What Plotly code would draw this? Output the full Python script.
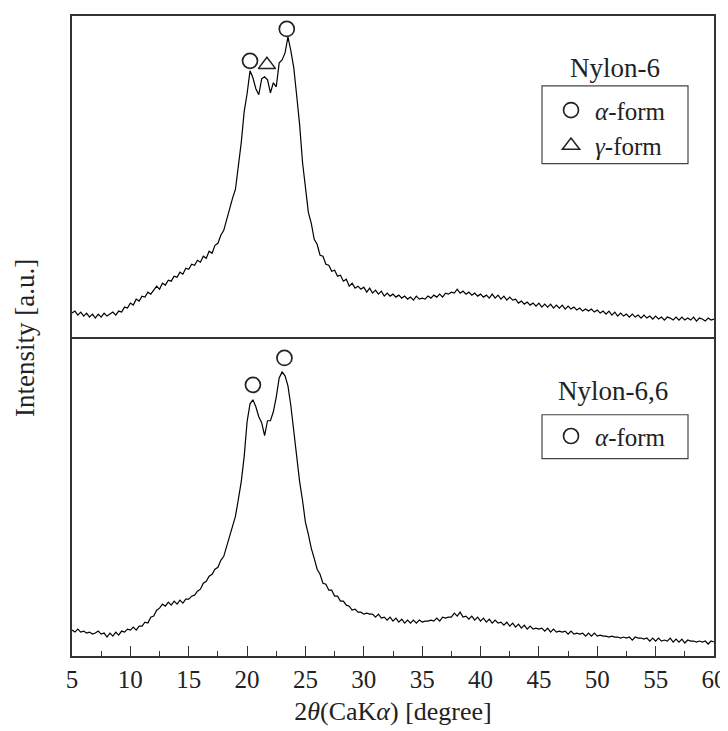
import numpy as np
import plotly.graph_objects as go
from plotly.subplots import make_subplots

# 2-theta scan grid (degrees), 0.25 deg step
two_theta = np.arange(5.0, 60.001, 0.25)

# Nylon-6 intensity (a.u.)
nylon6 = [
    24, 26, 22, 25, 21, 24, 20, 23, 19, 23, 20, 24, 21, 23, 25, 22, 26, 25, 30, 29,
    34, 32, 38, 36, 41, 40, 45, 43, 47, 51, 48, 54, 52, 57, 56, 61, 60, 65, 63, 69,
    68, 73, 72, 77, 75, 81, 79, 86, 84, 92, 94, 102, 107, 118, 127, 139, 148, 172, 195, 226,
    244, 267, 260, 249, 243, 259, 261, 258, 245, 255, 251, 275, 278, 285, 301, 287, 270, 242, 213, 175,
    147, 125, 114, 98, 93, 82, 81, 73, 72, 66, 67, 61, 62, 56, 58, 51, 54, 49, 51, 48,
    50, 45, 49, 44, 47, 43, 46, 41, 44, 41, 43, 40, 42, 39, 41, 38, 40, 37, 41, 38,
    39, 38, 41, 39, 42, 40, 43, 40, 44, 43, 45, 44, 48, 44, 46, 43, 45, 42, 44, 41,
    43, 40, 42, 39, 43, 39, 42, 38, 41, 37, 40, 37, 38, 34, 36, 33, 35, 32, 34, 31,
    34, 30, 33, 30, 33, 29, 32, 29, 32, 28, 31, 28, 30, 27, 29, 26, 28, 26, 28, 25,
    27, 24, 26, 23, 26, 22, 25, 21, 24, 21, 23, 20, 23, 20, 22, 19, 22, 19, 21, 18,
    21, 18, 20, 17, 20, 19, 17, 20, 17, 20, 17, 19, 17, 20, 16, 19, 18, 16, 19, 17,
    18,
]

# Nylon-6,6 intensity (a.u.)
nylon66 = [
    26, 24, 27, 24, 25, 23, 24, 22, 23, 25, 22, 23, 19, 23, 20, 24, 21, 25, 24, 27,
    26, 29, 26, 30, 30, 34, 33, 39, 40, 46, 48, 52, 50, 54, 51, 55, 52, 56, 53, 57,
    57, 60, 61, 65, 67, 73, 75, 80, 82, 87, 89, 96, 100, 110, 118, 129, 140, 157, 175, 200,
    235, 253, 257, 250, 240, 234, 221, 236, 236, 245, 260, 279, 285, 281, 271, 251, 225, 202, 175, 156,
    134, 122, 108, 98, 87, 82, 73, 72, 66, 66, 60, 60, 55, 55, 51, 50, 46, 47, 44, 44,
    42, 43, 42, 42, 39, 42, 38, 39, 36, 39, 35, 38, 34, 37, 33, 36, 33, 36, 33, 36,
    34, 35, 35, 36, 35, 38, 35, 39, 38, 39, 39, 43, 40, 44, 39, 40, 37, 40, 36, 39,
    35, 38, 34, 37, 33, 36, 33, 34, 31, 34, 30, 33, 29, 32, 28, 31, 27, 30, 27, 28,
    27, 28, 25, 28, 24, 27, 24, 25, 24, 25, 22, 25, 22, 23, 22, 23, 20, 23, 20, 23,
    20, 21, 20, 20, 19, 20, 19, 19, 18, 19, 18, 19, 16, 19, 18, 18, 17, 18, 15, 18,
    15, 18, 15, 16, 15, 18, 14, 17, 14, 17, 13, 16, 15, 15, 14, 15, 14, 15, 12, 15,
    14,
]

# Peak markers
n6_alpha_x = [20.25, 23.4]
n6_alpha_y = [277, 309]
n6_gamma_x = [21.7]
n6_gamma_y = [273]
n66_alpha_x = [20.5, 23.2]
n66_alpha_y = [272, 299]

tick_vals = list(range(5, 61, 5))

FONT = "Liberation Serif"
AX = "#333333"

fig = make_subplots(rows=2, cols=1, shared_xaxes=True, vertical_spacing=0)

fig.add_trace(go.Scatter(x=two_theta, y=nylon6, mode="lines",
                         line=dict(color="black", width=1.2), showlegend=False,
                         hoverinfo="skip"), row=1, col=1)
fig.add_trace(go.Scatter(x=two_theta, y=nylon66, mode="lines",
                         line=dict(color="black", width=1.2), showlegend=False,
                         hoverinfo="skip"), row=2, col=1)

fig.add_trace(go.Scatter(x=n6_alpha_x, y=n6_alpha_y, mode="markers", name="<i>α</i>-form",
                         marker=dict(symbol="circle-open", size=15, color="#222",
                                     line=dict(width=1.7, color="#222")),
                         legend="legend"), row=1, col=1)
fig.add_trace(go.Scatter(x=n6_gamma_x, y=n6_gamma_y, mode="markers", name="<i>γ</i>-form",
                         marker=dict(symbol="triangle-up-open", size=15, color="#222",
                                     line=dict(width=1.5, color="#222")),
                         legend="legend"), row=1, col=1)
fig.add_trace(go.Scatter(x=n66_alpha_x, y=n66_alpha_y, mode="markers", name="<i>α</i>-form",
                         marker=dict(symbol="circle-open", size=15, color="#222",
                                     line=dict(width=1.7, color="#222")),
                         legend="legend2"), row=2, col=1)

axis_common = dict(showline=True, linecolor=AX, linewidth=1.5,
                   showgrid=False, zeroline=False)

fig.update_xaxes(range=[5, 60], **axis_common)
fig.update_xaxes(row=1, col=1, ticks="", showticklabels=False, mirror=True)
fig.update_xaxes(row=2, col=1, mirror=False, ticks="inside", ticklen=10, tickwidth=1.2,
                 tickcolor=AX, tickvals=tick_vals, ticktext=[str(v) for v in tick_vals],
                 minor=dict(ticks="inside", ticklen=5, tickwidth=1.2, tickcolor=AX,
                            dtick=2.5, tick0=5),
                 tickfont=dict(family=FONT, size=25, color="#222"),
                 title=dict(text="2<i>θ</i>(CaK<i>α</i>) [degree]",
                            font=dict(family=FONT, size=26, color="#222"), standoff=10))
fig.update_yaxes(showticklabels=False, ticks="", mirror=True, **axis_common)
fig.update_yaxes(row=1, col=1, range=[0, 322])
fig.update_yaxes(row=2, col=1, range=[0, 320])

top_dom = (656 - 336) / 642
leg_font = dict(family=FONT, size=25, color="#222")
fig.update_layout(
    width=728, height=731,
    margin=dict(l=64, r=22, t=6, b=83),
    paper_bgcolor="white", plot_bgcolor="white",
    font=dict(family=FONT, color="#222"),
    yaxis=dict(domain=[top_dom, 1]),
    yaxis2=dict(domain=[0, top_dom]),
    legend=dict(x=(477 - 72) / 642 + 0.0, y=0.8886, xanchor="left", yanchor="top",
                bgcolor="rgba(0,0,0,0)", borderwidth=0, itemwidth=38,
                font=leg_font, tracegroupgap=0),
    legend2=dict(x=(477 - 72) / 642 + 0.0, y=0.3793, xanchor="left", yanchor="top",
                 bgcolor="rgba(0,0,0,0)", borderwidth=0, itemwidth=38,
                 font=leg_font),
    shapes=[
        dict(type="rect", xref="paper", yref="paper",
             x0=(542 - 72) / 642, x1=(688 - 72) / 642,
             y0=(656 - 162) / 642, y1=(656 - 84) / 642,
             line=dict(color="#444", width=1.2)),
        dict(type="rect", xref="paper", yref="paper",
             x0=(542 - 72) / 642, x1=(688 - 72) / 642,
             y0=(656 - 458) / 642, y1=(656 - 414) / 642,
             line=dict(color="#444", width=1.2)),
    ],
    annotations=[
        dict(text="Nylon-6", xref="paper", yref="paper",
             x=(615 - 72) / 642, y=(656 - 66) / 642, showarrow=False,
             xanchor="center", yanchor="middle",
             font=dict(family=FONT, size=27, color="#222")),
        dict(text="Nylon-6,6", xref="paper", yref="paper",
             x=(613 - 72) / 642, y=(656 - 390) / 642, showarrow=False,
             xanchor="center", yanchor="middle",
             font=dict(family=FONT, size=27, color="#222")),
        dict(text="Intensity [a.u.]", xref="paper", yref="paper",
             x=(25 - 72) / 642, y=(656 - 337) / 642, showarrow=False, textangle=-90,
             xanchor="center", yanchor="middle",
             font=dict(family=FONT, size=27, color="#222")),
    ],
)
# legend left edge: symbol centre should land at x~567 px
fig.update_layout(legend_x=(547 - 72) / 642, legend2_x=(547 - 72) / 642)

fig.write_html("out.html")
